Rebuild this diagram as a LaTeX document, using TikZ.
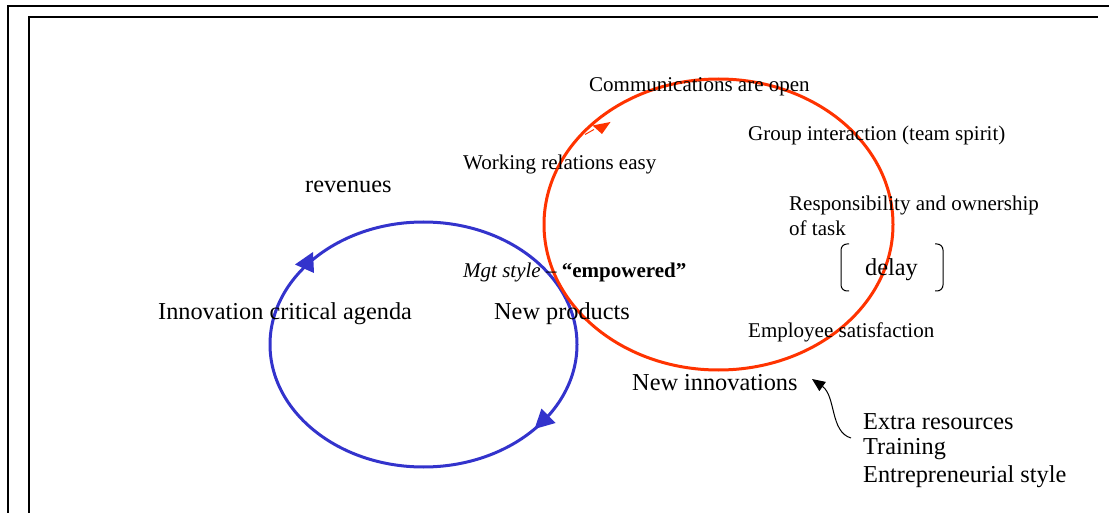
\documentclass[tikz,border=0pt]{standalone}
\usepackage{fontspec}
\setmainfont{Liberation Serif}
\usetikzlibrary{arrows.meta}
\definecolor{loopblue}{HTML}{3333CC}
\definecolor{loopred}{HTML}{FF3300}
\begin{document}
\begin{tikzpicture}[x=1pt,y=-1pt,
  small/.style={font=\fontsize{21}{25}\selectfont, anchor=west, inner sep=0pt},
  big/.style={font=\fontsize{24.3}{28}\selectfont, anchor=west, inner sep=0pt},
  blueline/.style={draw=loopblue, line width=3pt},
  redline/.style={draw=loopred, line width=3pt},
  bracketline/.style={draw=black, line width=1pt, rounded corners=6pt}]
\useasboundingbox (0,0) rectangle (1109,513);
% frames
\draw[line width=2pt] (8,513) -- (8,6) -- (1109,6);
\draw[line width=1.6pt] (29,513) -- (29,17) -- (1098,17);
% loops
\draw[blueline] (423.5,344.5) ellipse [x radius=153.5, y radius=122.5];
\draw[redline] (718.5,224.5) ellipse [x radius=174.5, y radius=145.5];
% loop arrowheads
\fill[loopblue] (313,252) -- (295,264.5) -- (314,273) -- cycle;
\fill[loopblue] (541.5,408.5) -- (555.5,423) -- (534.5,429) -- cycle;
\fill[loopred] (592.5,125.5) -- (610.5,122) -- (602,134) -- cycle;
\draw[loopred, line width=1pt] (585,134.5) -- (594,129.5);
% texts
\node[small] (comm) at (589,87) {Communications are open};
\node[small] (group) at (748,135) {Group interaction (team spirit)};
\node[small] (work) at (463,164) {Working relations easy};
\node[big] (rev) at (305,187) {revenues};
\node[small] (resp) at (789,205) {Responsibility and ownership};
\node[small] (task) at (789,228) {of task};
\node[small] (mgt) at (463,272) {\textit{Mgt style} – \textbf{“empowered”}};
\node[big] (delay) at (865,270) {delay};
\node[big] (innov) at (158,314) {Innovation critical agenda};
\node[big] (newprod) at (494,314) {New products};
\node[small] (empl) at (748,332) {Employee satisfaction};
\node[big] (newinn) at (632,383) {New innovations};
\node[big] (extra) at (863,422) {Extra resources};
\node[big] (train) at (863,449.5) {Training};
\node[big] (entre) at (863,477) {Entrepreneurial style};
% delay brackets
\draw[bracketline] (849,244) -- (841,244) -- (841,291) -- (849,291);
\draw[bracketline] (935,244) -- (943,244) -- (943,291) -- (935,291);
% curved arrow
\coordinate (ctail) at (851,438);
\coordinate (ctip) at (812,379);
\draw[line width=1pt, -{Triangle[length=13pt,width=11pt]}] (ctail) .. controls (830,432) and (836,396) .. (ctip);
\end{tikzpicture}
\end{document}
